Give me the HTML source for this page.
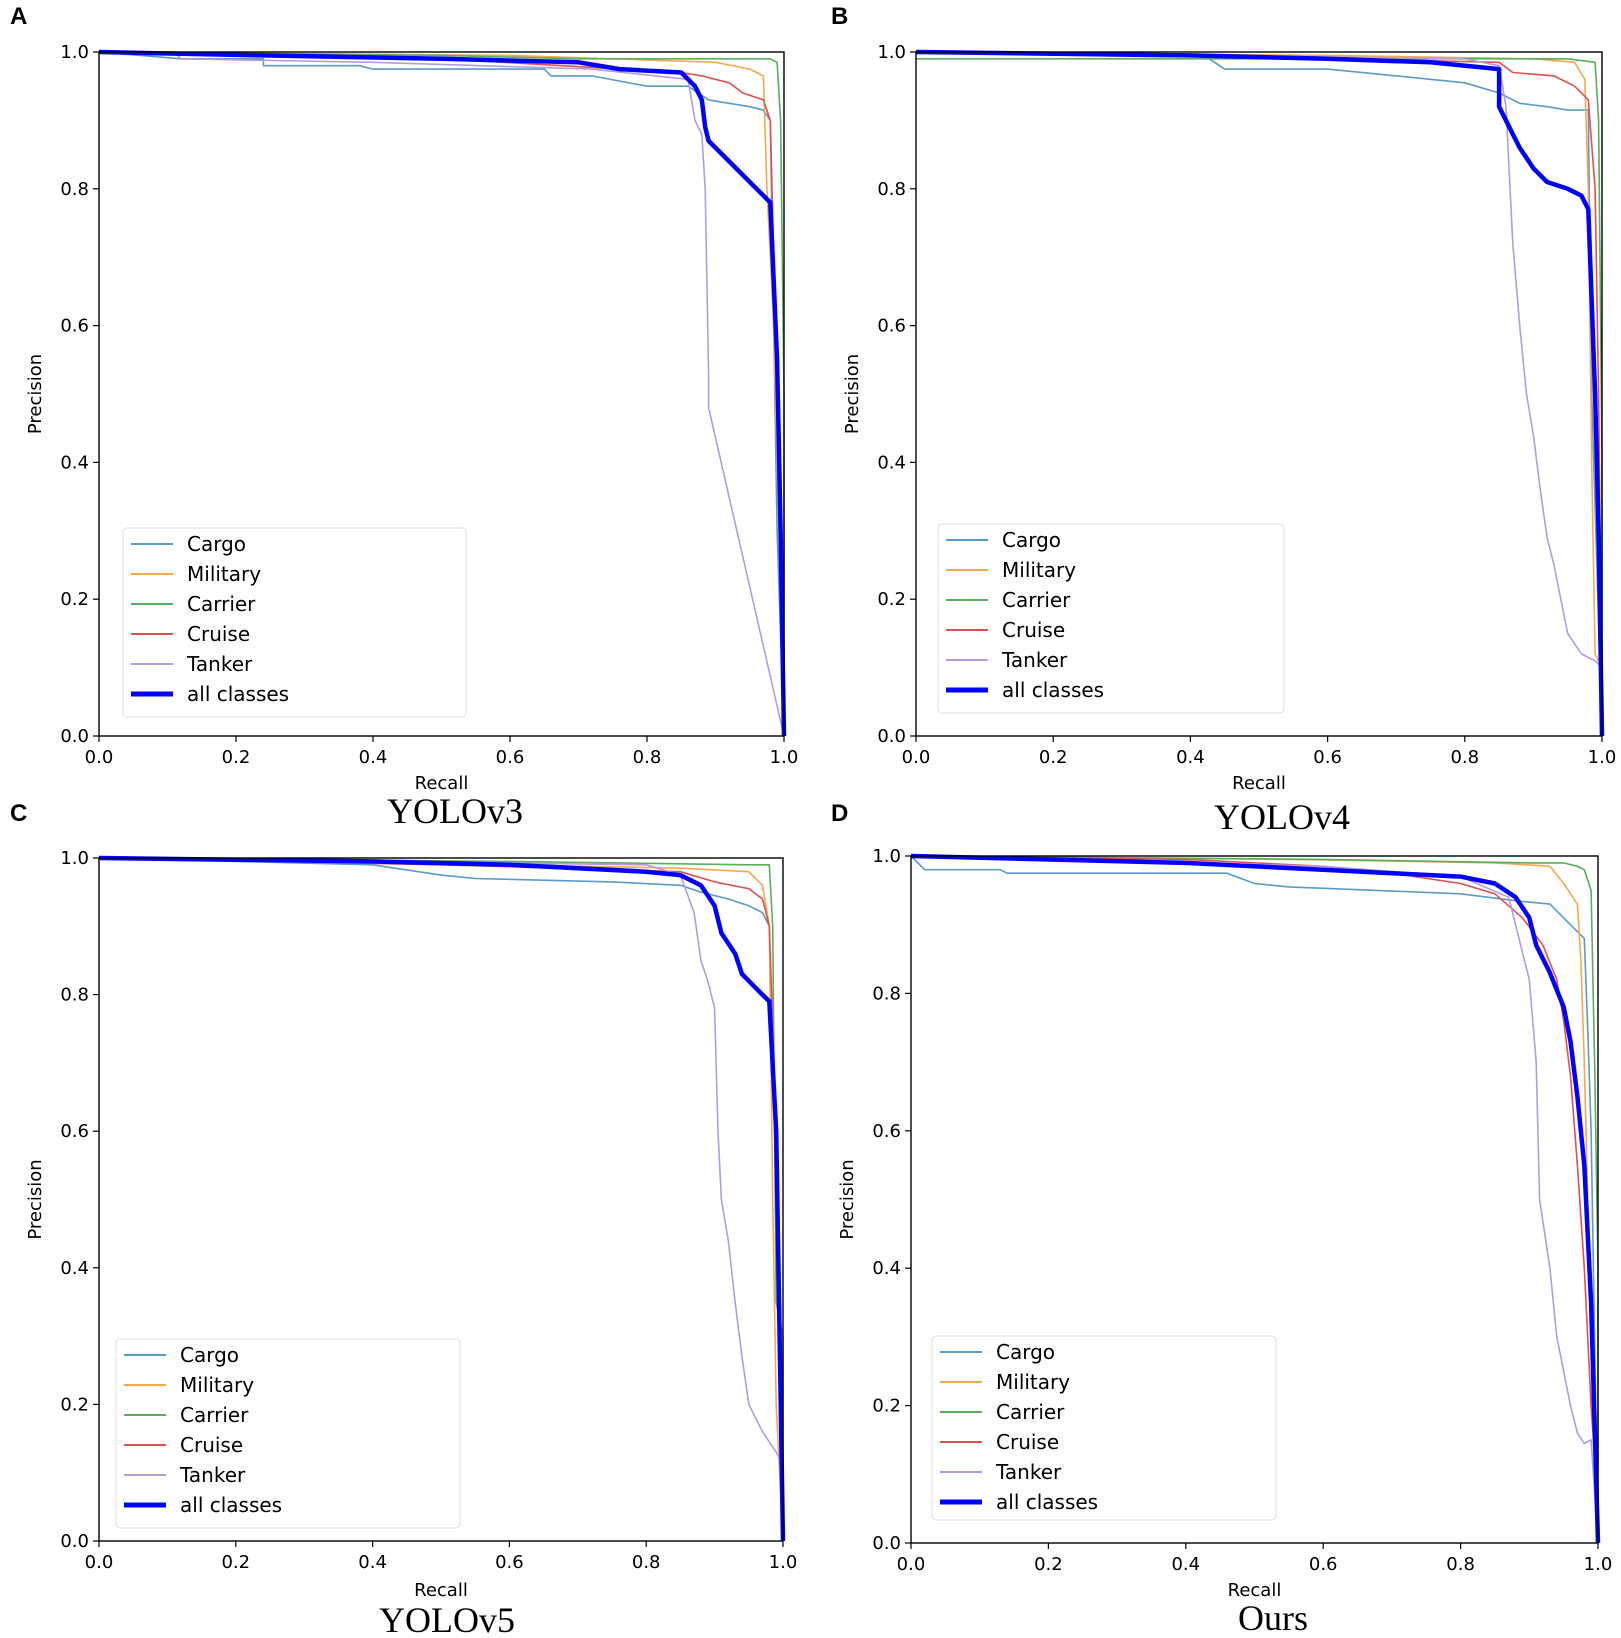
<!DOCTYPE html>
<html><head><meta charset="utf-8"><style>
html,body{margin:0;padding:0;background:#fff;}
svg{display:block;font-family:"DejaVu Sans","Liberation Sans",sans-serif;}
</style></head><body>
<svg id="fig" width="1621" height="1638" viewBox="0 0 1621 1638" xmlns="http://www.w3.org/2000/svg"></svg>
<script>
const tickLabels = ["0.0","0.2","0.4","0.6","0.8","1.0"];
const tickValues = [0,0.2,0.4,0.6,0.8,1.0];
const seriesNames = ["Cargo","Military","Carrier","Cruise","Tanker","all classes"];
const panelLetters = ["A","B","C","D"];
const panelTitles = ["YOLOv3","YOLOv4","YOLOv5","Ours"];

// Panel A (YOLOv3)
const aCargo=[[0,1],[0.12,0.99],[0.24,0.99],[0.24,0.98],[0.38,0.98],[0.40,0.975],[0.65,0.975],[0.66,0.965],[0.72,0.965],[0.80,0.95],[0.86,0.95],[0.89,0.93],[0.92,0.925],[0.95,0.92],[0.97,0.915],[0.98,0.90],[0.99,0.3],[1,0]];
const aMilitary=[[0,1],[0.6,0.995],[0.9,0.985],[0.95,0.975],[0.97,0.965],[0.975,0.8],[0.985,0.6],[1,0]];
const aCarrier=[[0,1],[0.5,0.995],[0.7,0.99],[0.98,0.99],[0.99,0.985],[0.995,0.9],[1,0.5],[1,0]];
const aCruise=[[0,1],[0.5,0.99],[0.85,0.97],[0.88,0.965],[0.92,0.955],[0.94,0.94],[0.97,0.93],[0.98,0.9],[0.985,0.7],[0.99,0.5],[1,0]];
const aTanker=[[0,1],[0.11,1],[0.12,0.99],[0.40,0.985],[0.72,0.975],[0.86,0.96],[0.87,0.9],[0.88,0.88],[0.885,0.8],[0.89,0.53],[0.89,0.48],[1,0]];
const aAll=[[0,1],[0.24,0.995],[0.5,0.99],[0.7,0.985],[0.76,0.975],[0.85,0.97],[0.87,0.95],[0.88,0.93],[0.885,0.89],[0.89,0.87],[0.92,0.84],[0.96,0.8],[0.98,0.78],[0.99,0.55],[0.995,0.3],[1,0]];
// Panel B (YOLOv4)
const bCargo=[[0,1],[0.42,0.995],[0.45,0.975],[0.6,0.975],[0.7,0.965],[0.8,0.955],[0.85,0.94],[0.88,0.925],[0.92,0.92],[0.95,0.915],[0.98,0.915],[0.985,0.5],[1,0]];
const bMilitary=[[0,1],[0.6,0.995],[0.9,0.99],[0.96,0.985],[0.975,0.96],[0.98,0.8],[0.985,0.4],[0.99,0.12],[1,0.1],[1,0]];
const bCarrier=[[0,0.99],[0.5,0.99],[0.95,0.99],[0.99,0.985],[0.995,0.9],[1,0.4],[1,0]];
const bCruise=[[0,1],[0.4,0.995],[0.85,0.985],[0.87,0.97],[0.93,0.965],[0.96,0.95],[0.98,0.93],[0.99,0.8],[0.995,0.5],[1,0]];
const bTanker=[[0,1],[0.8,0.99],[0.85,0.98],[0.86,0.92],[0.87,0.72],[0.88,0.6],[0.89,0.5],[0.9,0.44],[0.91,0.36],[0.92,0.29],[0.93,0.25],[0.94,0.2],[0.95,0.15],[0.97,0.12],[0.99,0.11],[1,0.1],[1,0]];
const bAll=[[0,1],[0.4,0.995],[0.6,0.99],[0.75,0.985],[0.85,0.975],[0.85,0.92],[0.87,0.88],[0.88,0.86],[0.9,0.83],[0.92,0.81],[0.95,0.8],[0.97,0.79],[0.98,0.77],[0.99,0.5],[0.995,0.3],[1,0]];
// Panel C (YOLOv5)
const cCargo=[[0,1],[0.4,0.99],[0.5,0.975],[0.55,0.97],[0.75,0.965],[0.85,0.96],[0.88,0.95],[0.92,0.94],[0.95,0.93],[0.97,0.92],[0.98,0.9],[0.99,0.5],[1,0]];
const cMilitary=[[0,1],[0.6,0.99],[0.85,0.985],[0.95,0.98],[0.97,0.96],[0.98,0.9],[0.985,0.5],[0.99,0.2],[1,0]];
const cCarrier=[[0,1],[0.6,0.995],[0.95,0.99],[0.98,0.99],[0.985,0.9],[0.99,0.35],[1,0.3],[1,0]];
const cCruise=[[0,1],[0.5,0.99],[0.85,0.98],[0.9,0.965],[0.95,0.955],[0.97,0.94],[0.98,0.9],[0.99,0.6],[0.995,0.3],[1,0]];
const cTanker=[[0,1],[0.8,0.99],[0.85,0.975],[0.87,0.92],[0.88,0.85],[0.89,0.82],[0.9,0.78],[0.905,0.6],[0.91,0.5],[0.92,0.44],[0.93,0.35],[0.94,0.27],[0.95,0.2],[0.96,0.18],[0.97,0.16],[0.99,0.13],[1,0.11],[1,0]];
const cAll=[[0,1],[0.4,0.995],[0.6,0.99],[0.8,0.98],[0.85,0.975],[0.88,0.96],[0.9,0.93],[0.91,0.89],[0.93,0.86],[0.94,0.83],[0.96,0.81],[0.98,0.79],[0.99,0.6],[0.995,0.3],[1,0]];
// Panel D (Ours)
const dCargo=[[0,1],[0.02,0.98],[0.13,0.98],[0.14,0.975],[0.46,0.975],[0.5,0.96],[0.55,0.955],[0.8,0.945],[0.88,0.935],[0.93,0.93],[0.96,0.9],[0.98,0.88],[0.985,0.75],[0.99,0.6],[1,0]];
const dMilitary=[[0,1],[0.55,0.995],[0.85,0.99],[0.93,0.985],[0.95,0.96],[0.97,0.93],[0.975,0.85],[0.98,0.7],[0.99,0.3],[1,0.15],[1,0]];
const dCarrier=[[0,1],[0.6,0.995],[0.9,0.99],[0.95,0.99],[0.97,0.985],[0.98,0.98],[0.99,0.95],[0.995,0.7],[1,0.4],[1,0]];
const dCruise=[[0,1],[0.4,0.995],[0.6,0.985],[0.7,0.975],[0.8,0.96],[0.85,0.945],[0.89,0.91],[0.92,0.87],[0.94,0.82],[0.95,0.76],[0.96,0.68],[0.97,0.55],[0.98,0.4],[0.99,0.2],[1,0.05],[1,0]];
const dTanker=[[0,1],[0.6,0.985],[0.8,0.97],[0.87,0.94],[0.88,0.9],[0.89,0.86],[0.9,0.82],[0.91,0.7],[0.915,0.5],[0.93,0.4],[0.94,0.3],[0.95,0.25],[0.96,0.2],[0.97,0.16],[0.98,0.145],[0.99,0.15],[1,0]];
const dAll=[[0,1],[0.4,0.99],[0.6,0.98],[0.7,0.975],[0.8,0.97],[0.85,0.96],[0.88,0.94],[0.9,0.91],[0.91,0.87],[0.93,0.83],[0.95,0.78],[0.96,0.73],[0.97,0.65],[0.98,0.55],[0.99,0.35],[1,0]];

const panelSeries=[[aCargo,aMilitary,aCarrier,aCruise,aTanker,aAll],[bCargo,bMilitary,bCarrier,bCruise,bTanker,bAll],[cCargo,cMilitary,cCarrier,cCruise,cTanker,cAll],[dCargo,dMilitary,dCarrier,dCruise,dTanker,dAll]];

const colors=["#5b9bc8","#f5a94e","#5cad5c","#e05050","#b49be0","#0000ff"];
const widths=[1.6,1.6,1.6,1.6,1.6,4.5];
const layouts=[
 {x0:99,x1:784,y1:52,y0:736,lx:123,ly:528,lw:343,lh:189,letter:[10,16],title:[455,811],rec:783},
 {x0:916,x1:1602,y1:52,y0:736,lx:938,ly:524,lw:346,lh:189,letter:[831,16],title:[1282,817],rec:783},
 {x0:99,x1:783,y1:858,y0:1541,lx:116,ly:1339,lw:344,lh:189,letter:[10,813],title:[447,1620],rec:1590},
 {x0:911,x1:1598,y1:856,y0:1543,lx:932,ly:1336,lw:344,lh:184,letter:[831,813],title:[1273,1618],rec:1590}
];
const NS="http://www.w3.org/2000/svg";
const svg=document.getElementById('fig');
function mk(tag,attrs,parent,text){const e=document.createElementNS(NS,tag);for(const k in attrs)e.setAttribute(k,attrs[k]);if(text!==undefined)e.textContent=text;parent.appendChild(e);return e;}

layouts.forEach((L,p)=>{
 const g=mk('g',{},svg);
 
 
 const xs=v=>L.x0+v*(L.x1-L.x0);
 const ys=v=>L.y0-v*(L.y0-L.y1);
 const letter=mk('text',{x:L.letter[0],y:L.letter[1]+8,'font-size':24,'font-weight':'bold','font-family':'Liberation Sans, sans-serif'},g,panelLetters[p]);
 
 
 const title=mk('text',{x:L.title[0],y:L.title[1]+12,'font-size':36,'text-anchor':'middle','font-family':'Liberation Serif, serif'},g,panelTitles[p]);
 
 
 tickValues.forEach((v,i)=>{
  mk('line',{x1:xs(v),x2:xs(v),y1:L.y0,y2:L.y0+6,stroke:'#000','stroke-width':1.2},g);
  const tx=mk('text',{x:xs(v),y:L.y0+27,'font-size':18,'text-anchor':'middle'},g,tickLabels[i]);
  
  
  mk('line',{x1:L.x0-6,x2:L.x0,y1:ys(v),y2:ys(v),stroke:'#000','stroke-width':1.2},g);
  const ty=mk('text',{x:L.x0-10,y:ys(v)+6,'font-size':18,'text-anchor':'end'},g,tickLabels[i]);
  
  
 });
 const xl=mk('text',{x:(L.x0+L.x1)/2,y:L.rec+6,'font-size':18,'text-anchor':'middle'},g,'Recall');
 
 
 const yl=mk('text',{x:0,y:0,'font-size':18,'text-anchor':'middle',transform:`translate(${L.x0-58},${(L.y0+L.y1)/2}) rotate(-90)`},g,'Precision');
 
 
 panelSeries[p].forEach((s,k)=>{
  const d=s.map((pt,i)=>(i?'L':'M')+xs(pt[0]).toFixed(1)+' '+ys(pt[1]).toFixed(1)).join(' ');
  const path=mk('path',{d:d,fill:'none',stroke:colors[k],'stroke-width':widths[k],'stroke-linejoin':'round'},g);
  
  
 });
 const frame=mk('rect',{x:L.x0,y:L.y1,width:L.x1-L.x0,height:L.y0-L.y1,fill:'none',stroke:'#000','stroke-width':1.4},g);
 
 
 const lg=mk('g',{},g);
 
 
 mk('rect',{x:L.lx,y:L.ly,width:L.lw,height:L.lh,rx:4,fill:'#fff','fill-opacity':0.85,stroke:'#ddd','stroke-width':1},lg);
 seriesNames.forEach((n,k)=>{
  const yy=L.ly+16+k*30;
  const ent=mk('g',{},lg);
  
  
  mk('line',{x1:L.lx+8,x2:L.lx+50,y1:yy,y2:yy,stroke:colors[k],'stroke-width':k==5?5:2},ent);
  mk('text',{x:L.lx+64,y:yy+7,'font-size':20},ent,n);
 });
});
</script>
</body></html>
